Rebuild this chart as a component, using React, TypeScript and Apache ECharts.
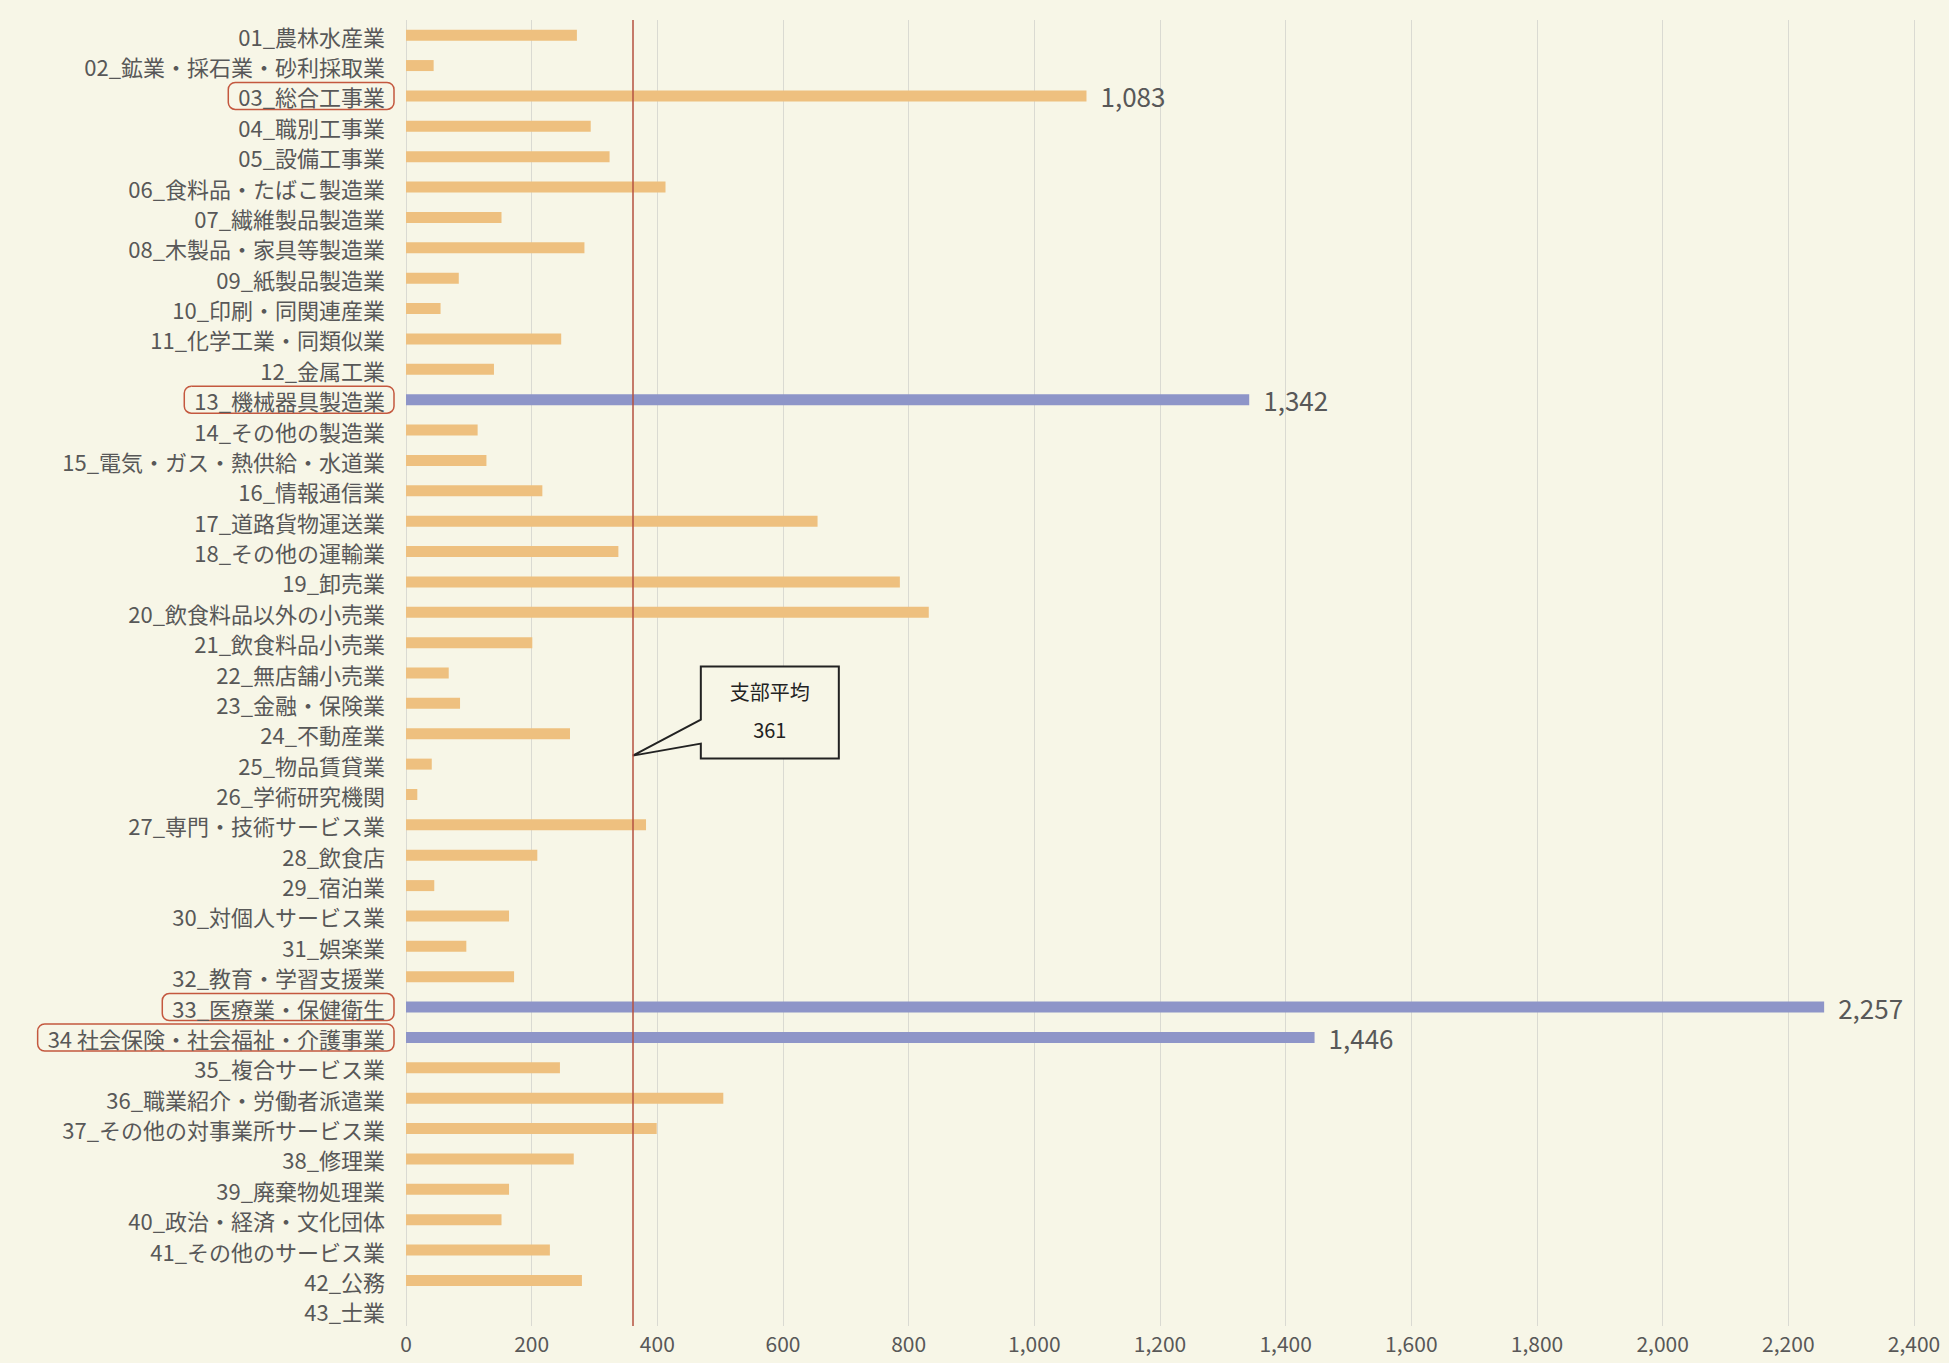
import React, { useEffect, useRef } from "react";
import * as echarts from "echarts";

const CATEGORIES = [
  "01_農林水産業",
  "02_鉱業・採石業・砂利採取業",
  "03_総合工事業",
  "04_職別工事業",
  "05_設備工事業",
  "06_食料品・たばこ製造業",
  "07_繊維製品製造業",
  "08_木製品・家具等製造業",
  "09_紙製品製造業",
  "10_印刷・同関連産業",
  "11_化学工業・同類似業",
  "12_金属工業",
  "13_機械器具製造業",
  "14_その他の製造業",
  "15_電気・ガス・熱供給・水道業",
  "16_情報通信業",
  "17_道路貨物運送業",
  "18_その他の運輸業",
  "19_卸売業",
  "20_飲食料品以外の小売業",
  "21_飲食料品小売業",
  "22_無店舗小売業",
  "23_金融・保険業",
  "24_不動産業",
  "25_物品賃貸業",
  "26_学術研究機関",
  "27_専門・技術サービス業",
  "28_飲食店",
  "29_宿泊業",
  "30_対個人サービス業",
  "31_娯楽業",
  "32_教育・学習支援業",
  "33_医療業・保健衛生",
  "34 社会保険・社会福祉・介護事業",
  "35_複合サービス業",
  "36_職業紹介・労働者派遣業",
  "37_その他の対事業所サービス業",
  "38_修理業",
  "39_廃棄物処理業",
  "40_政治・経済・文化団体",
  "41_その他のサービス業",
  "42_公務",
  "43_士業",
];

const VALUES = [
  272, 44, 1083, 294, 324, 413, 152, 284, 84, 55, 247, 140, 1342, 114, 128,
  217, 655, 338, 786, 832, 201, 68, 86, 261, 41, 18, 382, 209, 45, 164, 96,
  172, 2257, 1446, 245, 505, 399, 267, 164, 152, 229, 280, 0,
];

const BOXED_CATEGORIES = [
  "03_総合工事業",
  "13_機械器具製造業",
  "33_医療業・保健衛生",
  "34 社会保険・社会福祉・介護事業",
];
const BLUE_CATEGORIES = [
  "13_機械器具製造業",
  "33_医療業・保健衛生",
  "34 社会保険・社会福祉・介護事業",
];
const LABELED_CATEGORIES = [
  "03_総合工事業",
  "13_機械器具製造業",
  "33_医療業・保健衛生",
  "34 社会保険・社会福祉・介護事業",
];

const AVERAGE = 361;
const AVERAGE_TITLE = "支部平均";
const X_MIN = 0;
const X_MAX = 2400;
const X_INTERVAL = 200;

const FONT = "'Noto Sans CJK JP', 'Noto Sans', sans-serif";
const ORANGE = "#EEC07F";
const BLUE = "#8E95C8";
const BG = "#F7F6E7";
const TEXT = "#585858";

const fmt = (v: number) => v.toLocaleString("en-US");

export default function App() {
  const ref = useRef<HTMLDivElement>(null);

  useEffect(() => {
    if (!ref.current) return;
    const chart = echarts.init(ref.current, null, { renderer: "svg" });

    const data = VALUES.map((v, i) => {
      const cat = CATEGORIES[i];
      const blue = BLUE_CATEGORIES.includes(cat);
      const labeled = LABELED_CATEGORIES.includes(cat);
      return {
        value: v,
        itemStyle: { color: blue ? BLUE : ORANGE },
        label: {
          show: labeled,
          position: "right",
          distance: 14,
          fontSize: 26,
          fontFamily: FONT,
          color: TEXT,
          formatter: (p: any) => fmt(p.value),
        },
      };
    });

    const labelBase = {
      fontSize: 22,
      fontFamily: FONT,
      color: TEXT,
      lineHeight: 24,
      padding: [3, 9, 2, 10],
    };

    chart.setOption({
      animation: false,
      backgroundColor: BG,
      grid: { left: 406, right: 35, top: 20, bottom: 37, containLabel: false },
      xAxis: {
        type: "value",
        min: X_MIN,
        max: X_MAX,
        interval: X_INTERVAL,
        axisLine: { show: false },
        axisTick: { show: false },
        splitLine: { show: true, lineStyle: { color: "#DADAD2", width: 1 } },
        axisLabel: {
          fontSize: 21,
          lineHeight: 22,
          fontFamily: FONT,
          color: TEXT,
          margin: 6,
          formatter: (v: number) => fmt(v),
        },
      },
      yAxis: {
        type: "category",
        inverse: true,
        data: CATEGORIES,
        axisLine: { show: false },
        axisTick: { show: false },
        splitLine: { show: false },
        axisLabel: {
          margin: 12,
          interval: 0,
          formatter: (v: string) =>
            BOXED_CATEGORIES.includes(v) ? `{hl|${v}}` : `{n|${v}}`,
          rich: {
            n: { ...labelBase },
            hl: {
              ...labelBase,
              borderColor: "#C4583F",
              borderWidth: 1.5,
              borderRadius: 7,
            },
          },
        },
      },
      series: [
        {
          type: "bar",
          data,
          barWidth: 11,
          markLine: {
            silent: true,
            symbol: "none",
            label: { show: false },
            lineStyle: { color: "#B5513F", width: 1.5, type: "solid" },
            data: [{ xAxis: AVERAGE }],
          },
        },
      ],
    });

    // Callout attached to the average line
    const tipX = chart.convertToPixel({ xAxisIndex: 0 }, AVERAGE) as number;
    const yA = chart.convertToPixel({ yAxisIndex: 0 }, CATEGORIES[23]) as number;
    const yB = chart.convertToPixel({ yAxisIndex: 0 }, CATEGORIES[24]) as number;
    const tipY = yA + (yB - yA) * 0.72;

    chart.setOption({
      graphic: [
        {
          type: "group",
          x: tipX,
          y: tipY,
          silent: true,
          children: [
            {
              type: "polygon",
              shape: {
                points: [
                  [0, 0],
                  [68, -36],
                  [68, -89],
                  [206, -89],
                  [206, 3],
                  [68, 3],
                  [68, -12],
                ],
              },
              style: { fill: BG, stroke: "#222", lineWidth: 2 },
            },
            {
              type: "text",
              x: 137,
              y: -64,
              style: {
                text: AVERAGE_TITLE,
                fontSize: 20,
                fontFamily: FONT,
                fill: "#222",
                align: "center",
                verticalAlign: "middle",
              },
            },
            {
              type: "text",
              x: 137,
              y: -26,
              style: {
                text: String(AVERAGE),
                fontSize: 20,
                fontFamily: FONT,
                fill: "#222",
                align: "center",
                verticalAlign: "middle",
              },
            },
          ],
        },
      ],
    });

    return () => chart.dispose();
  }, []);

  return (
    <div
      ref={ref}
      style={{
        position: "fixed",
        left: 0,
        top: 0,
        width: 1949,
        height: 1363,
        background: BG,
      }}
    />
  );
}
